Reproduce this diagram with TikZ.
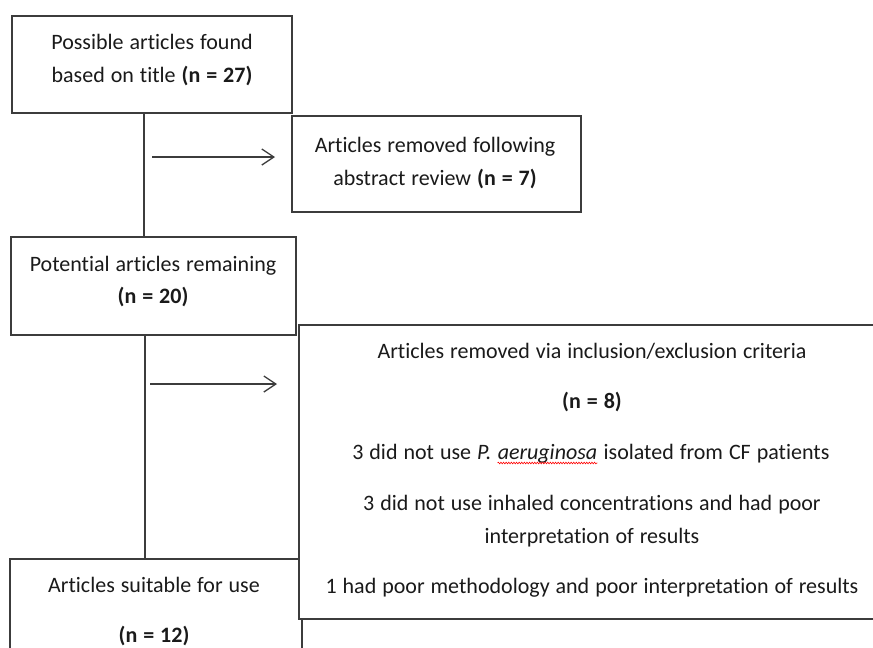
\documentclass[tikz,border=0pt]{standalone}
\usepackage{fontspec}
\setmainfont{Carlito}[Ligatures={NoCommon,NoRare,NoContextual}, Contextuals=NoAlternate, WordSpace=1.2]
\usetikzlibrary{arrows.meta,calc,decorations.pathmorphing}
\definecolor{linegray}{HTML}{3C3C3C}
\definecolor{textdark}{HTML}{1A1A1A}
\begin{document}
\begin{tikzpicture}[x=1pt,y=-1pt,
  box/.style={draw=linegray, line width=1.3pt, fill=white, rectangle, inner sep=0pt},
  txt/.style={inner sep=0pt, text=textdark, font=\fontsize{22}{26}\selectfont},
  conn/.style={draw=linegray, line width=1.3pt},
  arr/.style={conn, -{Straight Barb[length=12pt,width=16pt,line width=1.3pt]}}]
\useasboundingbox (0,0) rectangle (873,648);
\clip (0,0) rectangle (873,648);
\fill[white] (0,0) rectangle (873,648);

% boxes
\node[box, minimum width=280pt, minimum height=97pt] (b1) at (152,64.5) {};
\node[box, minimum width=289pt, minimum height=96pt] (b2) at (436.5,164) {};
\node[box, minimum width=285pt, minimum height=98pt] (b3) at (153.5,286) {};
\node[box, minimum width=292pt, minimum height=111pt] (b5) at (156,614.5) {};
\node[box, minimum width=586pt, minimum height=294pt] (b4) at (592,472) {};

% texts
\node[txt, anchor=base] (t1a) at (152,49) {Possible articles found};
\node[txt, anchor=base] (t1b) at (152,82) {based on title \textbf{(n = 27)}};
\node[txt, anchor=base] (t2a) at (435,152) {Articles removed following};
\node[txt, anchor=base] (t2b) at (435,185) {abstract review \textbf{(n = 7)}};
\node[txt, anchor=base] (t3a) at (153,271) {Potential articles remaining};
\node[txt, anchor=base] (t3b) at (153,303) {\textbf{(n = 20)}};
\node[txt, anchor=base] (t4a) at (592,358) {Articles removed via inclusion/exclusion criteria};
\node[txt, anchor=base] (t4b) at (592,408) {\textbf{(n = 8)}};
\node[txt, anchor=base] (t4c) at (547.5,459) {\textit{aeruginosa}};
\node[txt, anchor=base east] (t4cl) at (t4c.base west) {3 did not use \textit{P.}\ \null};
\node[txt, anchor=base west] (t4cr) at (t4c.base east) {\null\ isolated from CF patients};
\node[txt, anchor=base] (t4d) at (592,510) {3 did not use inhaled concentrations and had poor};
\node[txt, anchor=base] (t4e) at (592,543) {interpretation of results};
\node[txt, anchor=base] (t4f) at (592,593) {1 had poor methodology and poor interpretation of results};
\node[txt, anchor=base] (t5a) at (154,592) {Articles suitable for use};
\node[txt, anchor=base] (t5b) at (154,642) {\textbf{(n = 12)}};

% spell-check squiggle
\draw[red, line width=0.6pt, decorate, decoration={snake, amplitude=0.8pt, segment length=2.6pt}]
  ([yshift=-4pt]t4c.base west) -- ([yshift=-4pt]t4c.base east);

% trunk lines
\coordinate (v1) at (144,0);
\coordinate (v2) at (145,0);
\draw[conn] (v1 |- b1.south) -- (v1 |- b3.north);
\draw[conn] (v2 |- b3.south) -- (v2 |- b5.north);

% arrows
\coordinate (a1s) at (152,157);
\coordinate (a1e) at (275,157);
\coordinate (a2s) at (150,384);
\coordinate (a2e) at (277,384);
\draw[arr] (a1s) -- (a1e);
\draw[arr] (a2s) -- (a2e);
\end{tikzpicture}
\end{document}
